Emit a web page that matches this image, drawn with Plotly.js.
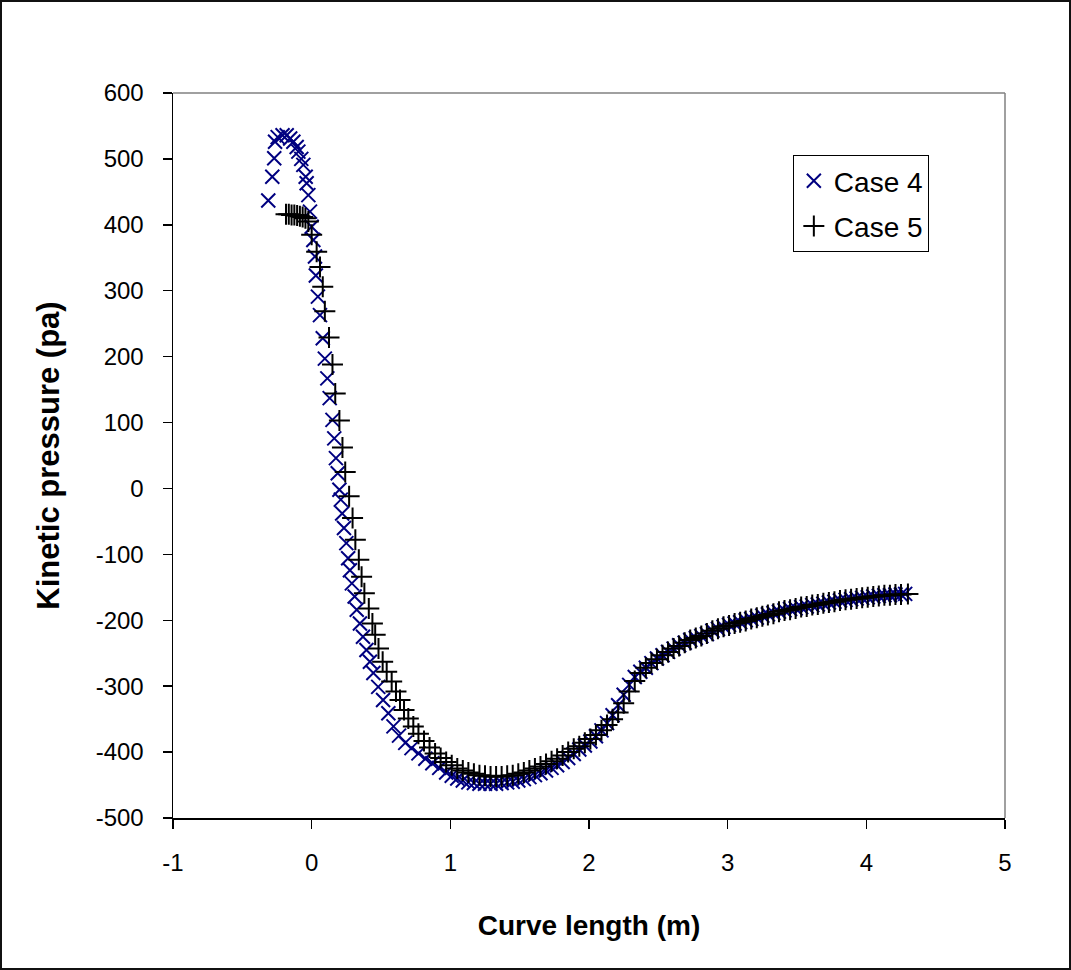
<!DOCTYPE html>
<html>
<head>
<meta charset="utf-8">
<script src="https://cdn.plot.ly/plotly-3.0.1.min.js"></script>
<style>
html,body{margin:0;padding:0;background:#fff;}
#chart{width:1067px;height:966px;border:2px solid #111;}
</style>
</head>
<body>
<div id="chart"></div>
<script>
// Case 4 (blue x markers)
const case4X = [-0.313,-0.284,-0.27,-0.264,-0.245,-0.21,-0.18,-0.155,-0.132,-0.108,-0.096,-0.075,-0.06,-0.043,-0.036,-0.024,-0.012,0.0,0.012,0.024,
  0.03,0.045,0.06,0.08,0.095,0.113,0.13,0.15,0.163,0.175,0.188,0.2,
  0.21,0.22,0.233,0.25,0.263,0.276,0.29,0.31,0.325,0.348,0.37,0.395,0.42,0.445,0.48,0.515,0.553,0.59,
  0.63,0.675,0.72,0.77,0.82,0.87,0.92,0.97,
  1.01,1.05,1.09,1.13,1.17,1.21,1.25,1.29,1.33,1.37,1.41,1.45,1.49,1.53,1.57,1.61,1.65,1.69,1.73,1.77,1.81,1.85,1.89,1.93,1.97,
  2.01,2.05,2.09,2.13,2.17,2.21,2.25,2.29,2.33,2.37,2.41,2.45,2.49,2.53,2.57,2.61,2.65,2.69,2.73,2.77,2.81,2.85,2.89,2.93,2.97,
  3.01,3.05,3.09,3.13,3.17,3.21,3.25,3.29,3.33,3.37,3.41,3.45,3.49,3.53,3.57,3.61,3.65,3.69,3.73,3.77,3.81,3.85,3.89,3.93,3.97,
  4.01,4.05,4.09,4.13,4.17,4.21,4.25,4.28];
const case4Y = [437,473,501,526,533,536,536,531,526,518,511,500,491,473,463,445,420,397,377,352,
  323,291,263,228,197,167,137,104,76,46,23,-2,
  -17,-38,-60,-83,-106,-124,-144,-164,-184,-205,-225,-245,-263,-280,-301,-321,-341,-361,
  -375,-386,-394,-402,-410,-417,-424,-431,
  -436,-440,-443,-446,-447,-448,-448,-448,-448,-447,-446,-445,-443,-441,-438,-435,-432,-428,-424,-420,-415,-409,-403,-396,-390,
  -384,-376,-367,-356,-344,-329,-313,-298,-286,-278,-272,-265,-258,-253,-248,-243,-238,-234,-230,-227,-224,-221,-216,-213,-210,
  -207,-205,-203,-200,-198,-196,-193,-191,-189,-187,-185,-183,-182,-180,-179,-177,-176,-175,-173,-172,-170,-169,-168,-167,-166,
  -165,-164,-163,-162,-162,-161,-161,-160];

// Case 5 (black + markers)
const case5X = [-0.185,-0.165,-0.145,-0.125,-0.105,-0.085,-0.065,-0.045,-0.024,0.0,0.036,0.06,0.08,0.095,0.125,0.15,0.17,0.2,0.222,0.242,
  0.27,0.295,0.315,0.34,0.36,0.38,0.412,0.438,0.458,0.482,0.512,0.541,0.577,0.608,0.637,0.666,0.697,0.733,
  0.77,0.81,0.85,0.89,0.93,0.97,
  1.01,1.05,1.09,1.13,1.17,1.21,1.25,1.29,1.33,1.37,1.41,1.45,1.49,1.53,1.57,1.61,1.65,1.69,1.73,1.77,1.81,1.85,1.89,1.93,1.97,
  2.01,2.05,2.09,2.13,2.17,2.21,2.25,2.29,2.33,2.37,2.41,2.45,2.49,2.53,2.57,2.61,2.65,2.69,2.73,2.77,2.81,2.85,2.89,2.93,2.97,
  3.01,3.05,3.09,3.13,3.17,3.21,3.25,3.29,3.33,3.37,3.41,3.45,3.49,3.53,3.57,3.61,3.65,3.69,3.73,3.77,3.81,3.85,3.89,3.93,3.97,
  4.01,4.05,4.09,4.13,4.17,4.21,4.25,4.3];
const case5Y = [416,416,415,415,414,413,412,410,405,385,359,336,306,269,229,188,144,103,62,25,
  -12,-45,-78,-108,-134,-159,-182,-205,-222,-243,-263,-278,-293,-308,-321,-336,-349,-361,
  -372,-383,-393,-402,-409,-415,
  -420,-425,-428,-431,-433,-435,-436,-437,-437,-437,-436,-435,-433,-431,-428,-425,-422,-418,-414,-410,-405,-400,-395,-391,-386,
  -380,-374,-367,-359,-350,-340,-326,-308,-292,-280,-272,-265,-259,-253,-248,-243,-239,-234,-230,-227,-224,-220,-216,-213,-210,
  -208,-205,-203,-201,-198,-196,-194,-192,-190,-187,-185,-184,-182,-180,-179,-177,-176,-174,-173,-172,-170,-169,-168,-167,-166,
  -165,-164,-163,-162,-162,-161,-161,-160];

const seriesNames = ['Case 4', 'Case 5'];
const xTickVals = [-1,0,1,2,3,4,5];
const yTickVals = [-500,-400,-300,-200,-100,0,100,200,300,400,500,600];

const fontFam = 'Arial, "Liberation Sans", Helvetica, sans-serif';

const traces = [
  {x: case4X, y: case4Y, name: seriesNames[0], type: 'scatter', mode: 'markers', legendgroup: 'a',
   marker: {symbol: 'x-thin-open', size: 14, color: '#000080', line: {width: 2, color: '#000080'}}},
  {x: case5X, y: case5Y, name: seriesNames[1], type: 'scatter', mode: 'markers', legendgroup: 'b',
   marker: {symbol: 'cross-thin-open', size: 15, color: '#000000', line: {width: 2, color: '#000000'}}}
];

const layout = {
  width: 1067, height: 966,
  margin: {l: 171, r: 64, t: 91, b: 150},
  paper_bgcolor: '#ffffff', plot_bgcolor: '#ffffff',
  font: {family: fontFam, color: '#000', size: 24},
  showlegend: true,
  legend: {x: 0.745, y: 0.9145, xanchor: 'left', yanchor: 'top',
    bordercolor: '#000', borderwidth: 1, bgcolor: '#fff',
    font: {family: fontFam, size: 28, color: '#000'}, tracegroupgap: 6},
  xaxis: {range: [-1, 5], tickvals: xTickVals, ticktext: xTickVals.map(String),
    showgrid: false, zeroline: false, showline: true, linecolor: '#000', linewidth: 1.5,
    ticks: 'outside', ticklen: 9, tickwidth: 1.5, tickcolor: '#000',
    tickfont: {family: fontFam, size: 24}, ticklabelstandoff: 14,
    title: {text: '<b>Curve length (m)</b>', font: {family: fontFam, size: 28}, standoff: 40}},
  yaxis: {range: [-500, 600], tickvals: yTickVals, ticktext: yTickVals.map(String),
    showgrid: false, zeroline: false, showline: true, linecolor: '#000', linewidth: 1.5,
    ticks: 'outside', ticklen: 9, tickwidth: 1.5, tickcolor: '#000',
    tickfont: {family: fontFam, size: 24}, ticklabelstandoff: 14,
    title: {text: '<b>Kinetic pressure (pa)</b>', font: {family: fontFam, size: 31}, standoff: 27}},
  shapes: [
    {type: 'line', xref: 'paper', yref: 'paper', x0: 0, x1: 1, y0: 1, y1: 1, line: {color: '#808080', width: 1.5}},
    {type: 'line', xref: 'paper', yref: 'paper', x0: 1, x1: 1, y0: 0, y1: 1, line: {color: '#808080', width: 1.5}}
  ]
};

Plotly.newPlot('chart', traces, layout, {displayModeBar: false, staticPlot: true});
</script>
</body>
</html>
